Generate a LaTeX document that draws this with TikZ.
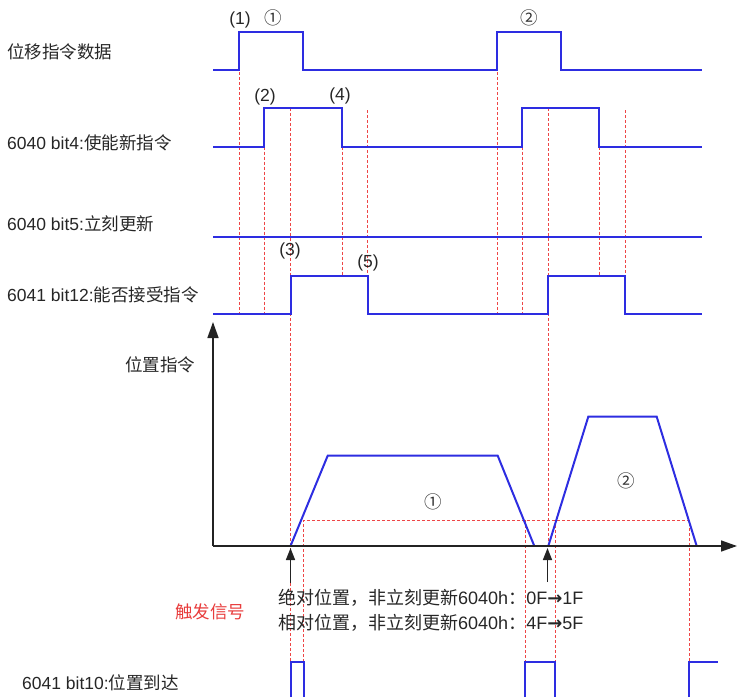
\documentclass[tikz,border=0pt]{standalone}
\usepackage{fontspec}
\setmainfont{Liberation Sans}
\newfontfamily\cjk{Noto Sans CJK SC}
\newfontfamily\symb{DejaVu Sans Bold}
\usetikzlibrary{arrows.meta}
\definecolor{sig}{RGB}{45,45,225}
\definecolor{guide}{RGB}{238,70,70}
\definecolor{axisc}{RGB}{35,35,35}
\definecolor{redtext}{RGB}{232,60,60}
\begin{document}
\begin{tikzpicture}[x=1pt,y=-1pt,
  sigline/.style={sig, line width=2pt, line join=miter},
  guideline/.style={guide, line width=0.9pt, dash pattern=on 3pt off 2pt},
  axisline/.style={axisc, line width=1.5pt},
  lbl/.style={inner sep=0pt, font=\fontsize{17.5}{20}\selectfont, text=black!85},
  trtext/.style={inner sep=0pt, font=\fontsize{18}{20}\selectfont, text=black!85},
  num/.style={lbl, anchor=center},
  circ/.style={inner sep=0pt, font=\cjk\fontsize{17.5}{20}\selectfont, text=black!80}]
\useasboundingbox (0,0) rectangle (737,697);

% guide lines (red dashed)
\draw[guideline] (239,32) -- (239,314);
\draw[guideline] (264,146.5) -- (264,314);
\draw[guideline] (290.5,108) -- (290.5,661.7);
\draw[guideline] (342,146.5) -- (342,276);
\draw[guideline] (367.5,110) -- (367.5,276);
\draw[guideline] (497,32) -- (497,314);
\draw[guideline] (522,146.5) -- (522,314);
\draw[guideline] (548,108) -- (548,546);
\draw[guideline] (599,146.5) -- (599,276);
\draw[guideline] (625,110) -- (625,276);
\draw[guideline] (303.5,661.7) -- (303.5,520) -- (689,520) -- (689,661.7);
\draw[guideline] (525,520) -- (525,661.7);
\draw[guideline] (555,520) -- (555,661.7);

% signals
\draw[sigline] (213,70) -- (239,70) -- (239,32) -- (303,32) -- (303,70) -- (497,70) -- (497,32) -- (561,32) -- (561,70) -- (702,70);
\draw[sigline] (213,146.5) -- (264,146.5) -- (264,108) -- (342,108) -- (342,146.5) -- (522,146.5) -- (522,108) -- (599,108) -- (599,146.5) -- (702,146.5);
\draw[sigline] (213,237) -- (702,237);
\draw[sigline] (213,314) -- (290.5,314) -- (290.5,276) -- (367.5,276) -- (367.5,314) -- (548,314) -- (548,276) -- (625,276) -- (625,314) -- (702,314);

% position command profile
\draw[sigline] (290.5,546) -- (327.7,455.7) -- (497.7,455.7) -- (534.3,546);
\draw[sigline] (548.3,546) -- (588.3,416.7) -- (656.7,416.7) -- (696.7,546);

% axes
\draw[axisline,-{Triangle[length=16pt,width=11pt]}] (213,546) -- (213,322);
\draw[axisline,-{Triangle[length=16pt,width=11pt]}] (213,546) -- (737,546);

% trigger arrows
\draw[axisline,-{Triangle[length=12pt,width=9pt]}] (290.5,583) -- (290.5,548);
\draw[axisline,-{Triangle[length=12pt,width=9pt]}] (547.5,582) -- (547.5,548);

% bit10 pulses
\draw[sigline] (290.5,697) -- (290.5,661.7) -- (303.5,661.7) -- (303.5,697);
\draw[sigline] (525,697) -- (525,661.7) -- (555,661.7) -- (555,697);
\draw[sigline] (689,697) -- (689,661.7) -- (718,661.7);

% left labels
\node[lbl, anchor=west] (l1) at (7,51.7) {\cjk 位移指令数据};
\node[lbl, anchor=west] (l2) at (7,143) {6040 bit4:{\cjk 使能新指令}};
\node[lbl, anchor=west] (l3) at (7,224) {6040 bit5:{\cjk 立刻更新}};
\node[lbl, anchor=west] (l4) at (7,295) {6041 bit12:{\cjk 能否接受指令}};
\node[lbl, anchor=center] (l5) at (160,365) {\cjk 位置指令};
\node[lbl, anchor=west] (l6) at (22,683) {6041 bit10:{\cjk 位置到达}};

% numbered markers
\node[num] (n1) at (240,20) {(1)};
\node[num] (n2) at (265,97) {(2)};
\node[num] (n3) at (290,251) {(3)};
\node[num] (n4) at (340,96) {(4)};
\node[num] (n5) at (368,263) {(5)};
\node[circ] (c1) at (273,18) {①};
\node[circ] (c2) at (529,17.5) {②};
\node[circ] (c3) at (433,502) {①};
\node[circ] (c4) at (626,481) {②};

% trigger text
\node[lbl, anchor=center, text=redtext] (trig) at (210,612) {\cjk 触发信号};
\node[trtext, anchor=west] (t1) at (278,598) {{\cjk 绝对位置，非立刻更新}6040h{\cjk ：}0F{\symb\fontsize{18}{20}\selectfont →}1F};
\node[trtext, anchor=west] (t2) at (278,623) {{\cjk 相对位置，非立刻更新}6040h{\cjk ：}4F{\symb\fontsize{18}{20}\selectfont →}5F};
\end{tikzpicture}
\end{document}
